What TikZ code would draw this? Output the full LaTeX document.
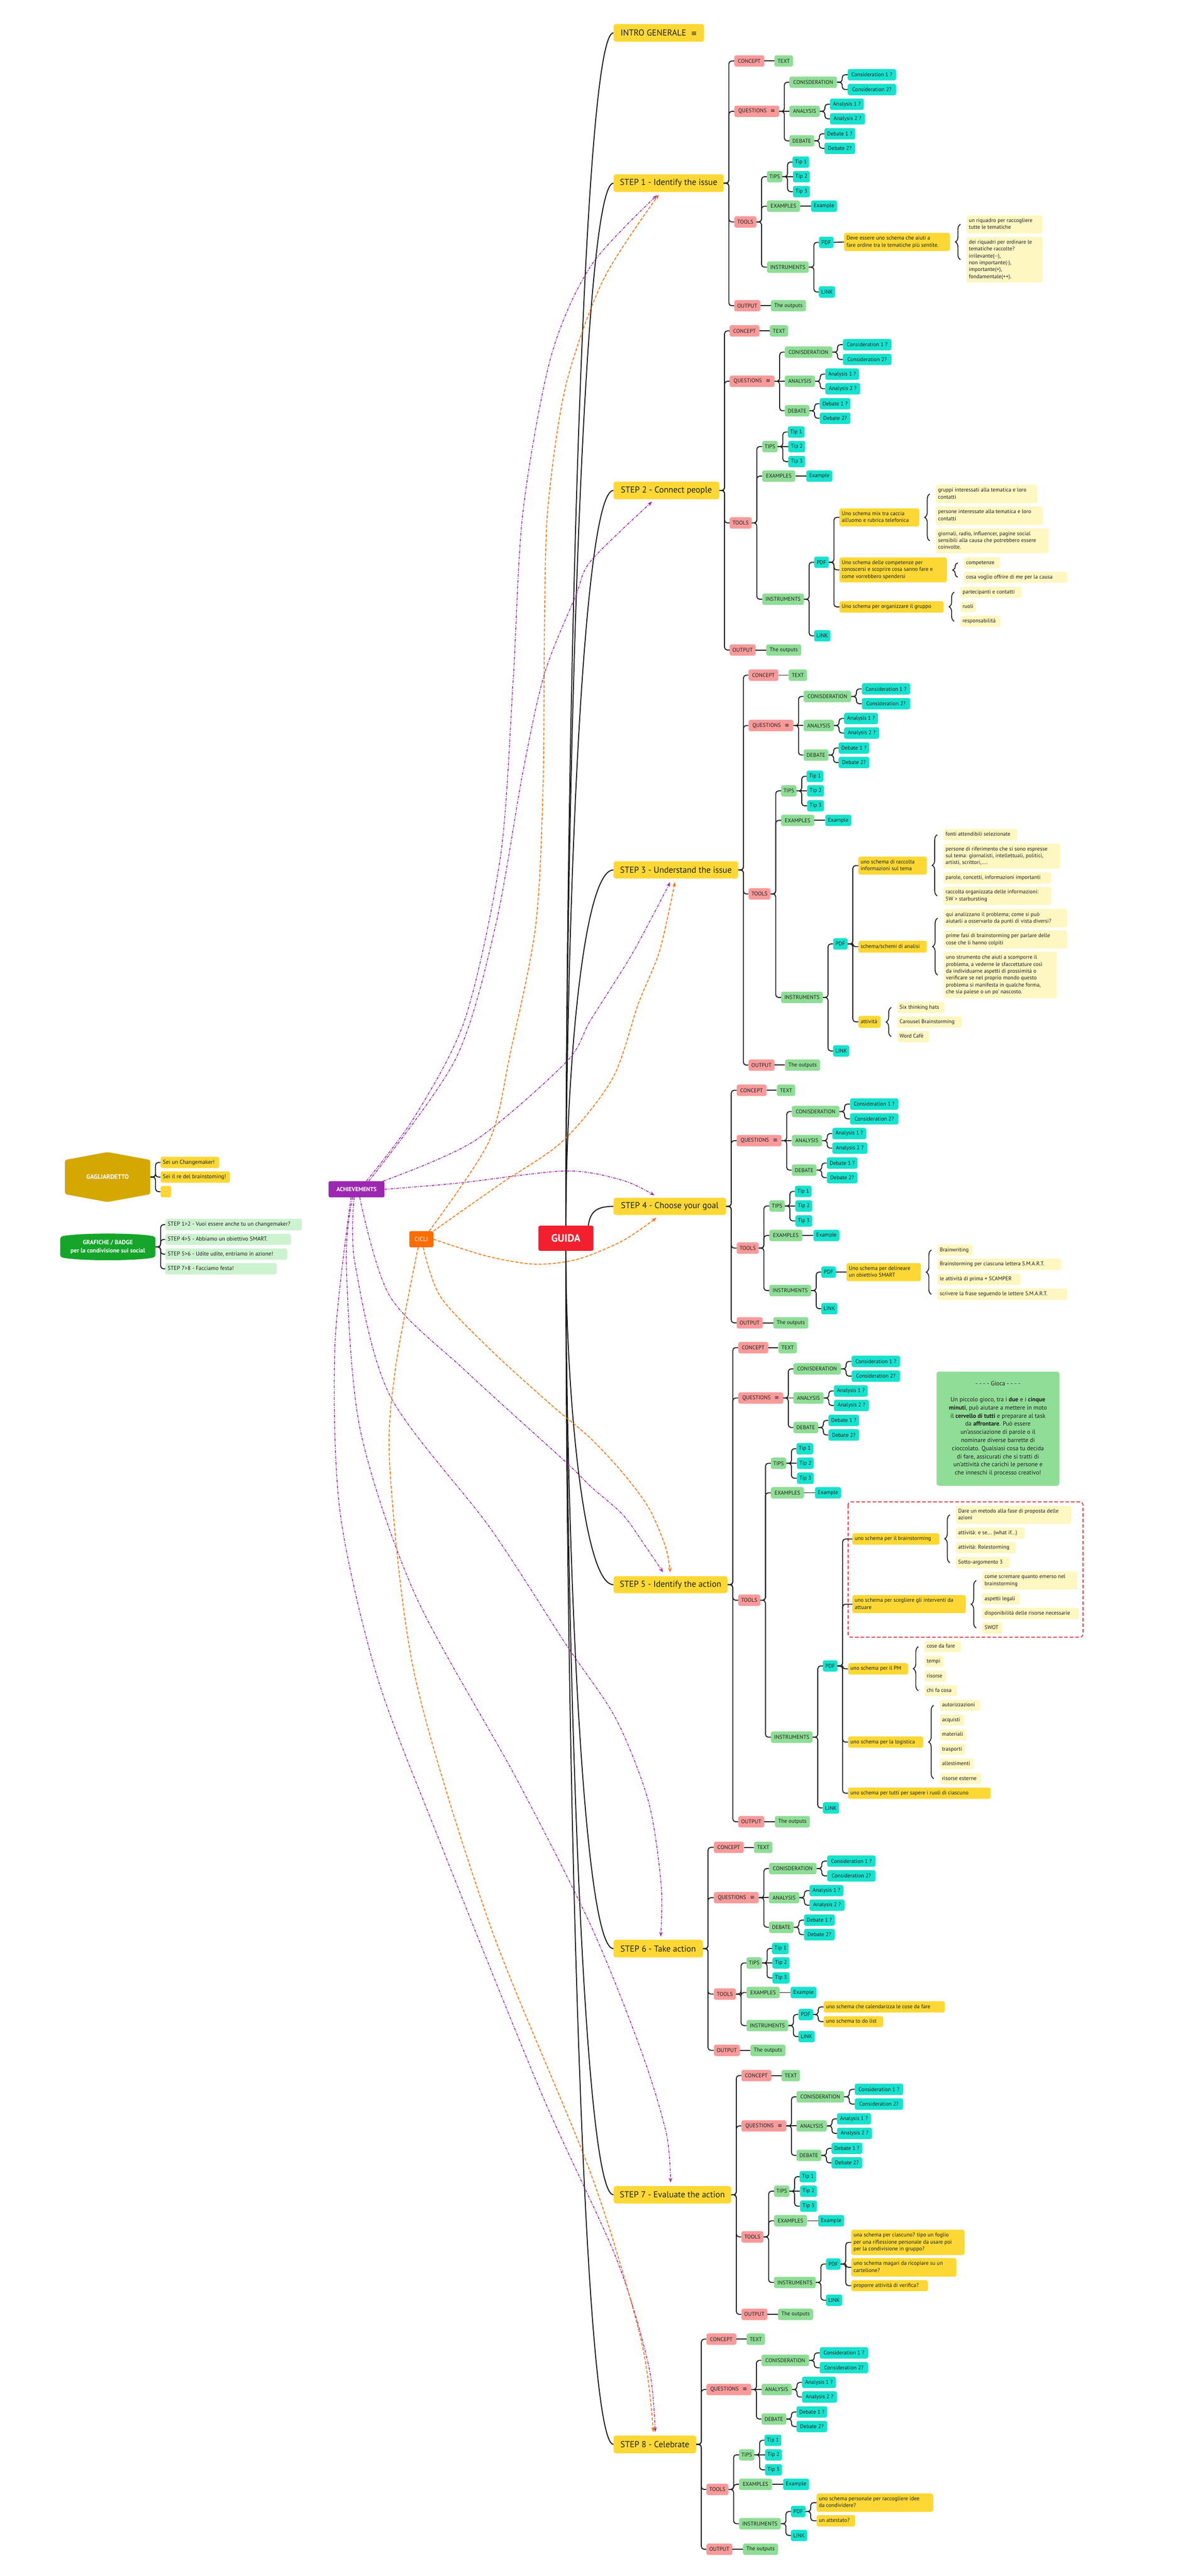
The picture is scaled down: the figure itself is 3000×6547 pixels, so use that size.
\documentclass[tikz,border=0pt]{standalone}
\usepackage{fontspec}
\setmainfont{PT Sans}
\newfontfamily\symf{DejaVu Sans}
\usetikzlibrary{calc,decorations.pathreplacing,arrows.meta}
\definecolor{stepY}{HTML}{FDD835}
\definecolor{pinkC}{HTML}{F99A9A}
\definecolor{greenC}{HTML}{8FDD96}
\definecolor{cyanC}{HTML}{17E2CD}
\definecolor{lyC}{HTML}{FFF7C2}
\definecolor{guidaC}{HTML}{F2202F}
\definecolor{purpC}{HTML}{9C27B0}
\definecolor{oranC}{HTML}{FF6D00}
\definecolor{gagC}{HTML}{D4A800}
\definecolor{grafC}{HTML}{15A52B}
\definecolor{badgeC}{HTML}{CDF2CF}
\definecolor{txtC}{HTML}{1E1E1E}
\definecolor{redbox}{HTML}{E8202A}
\tikzset{
 base/.style={rounded corners=5pt, inner xsep=6pt, inner ysep=2pt, align=left, text=txtC, font=\fontsize{14}{17.5}\selectfont},
 stp/.style={base, fill=stepY, rounded corners=6pt, font=\fontsize{22}{26}\selectfont},
 pk/.style={base, fill=pinkC},
 gr/.style={base, fill=greenC},
 cy/.style={base, fill=cyanC},
 yl/.style={base, fill=stepY},
 ly/.style={base, fill=lyC},
 bd/.style={base, fill=badgeC, font=\fontsize{14.5}{17.5}\selectfont},
 gy/.style={base, fill=stepY, font=\fontsize{14.5}{17.5}\selectfont},
 conn/.style={draw=txtC, line width=2.4pt, rounded corners=7pt},
 trunk/.style={draw=txtC, line width=2.6pt},
 brc/.style={draw=txtC, line width=2.2pt, decorate, decoration={brace, amplitude=13pt}},
 pu/.style={draw=purpC, line width=2pt, dash pattern=on 7pt off 3pt on 2pt off 3pt, -{Stealth[length=12pt,width=9pt]}},
 oa/.style={draw=oranC, line width=2pt, dash pattern=on 8pt off 4pt, -{Stealth[length=12pt,width=9pt]}},
 wt/.style={text=white, font=\bfseries\fontsize{16}{20.5}\selectfont, align=center},
 gioca/.style={fill=greenC, rounded corners=6pt, align=center, text=txtC, font=\fontsize{15.5}{20.7}\selectfont},
}
% box by corners, centred text
\newcommand\mmbx[7][]{\node[#1,minimum width={(#5)-(#3)},minimum height={(#6)-(#4)}] (#2) at ({((#3)+(#5))/2},{((#4)+(#6))/2}) {#7};}
% box by corners, left aligned text
\newcommand\mmbl[7][]{\node[#1,minimum width={(#5)-(#3)},minimum height={(#6)-(#4)}] (#2) at ({((#3)+(#5))/2},{((#4)+(#6))/2}) {\makebox[\dimexpr #5pt-#3pt-12pt\relax][l]{\begin{tabular}{@{}l@{}}#7\end{tabular}}};}
% small box: left x, center y, width
\newcommand\mmnb[6][]{\node[#1,minimum width={#5},minimum height=29] (#2) at ({#3+(#5)/2},{#4}) {#6};}
\newcommand\mmlk[2]{\draw[conn] (#1.east) -- ++(13,0) |- (#2.west);}
\newcommand\mmls[2]{\draw[conn] (#1.east) -- (#2.west);}
\newcommand\mmbr[2]{\draw[brc] ([xshift=-15pt]#1.west) -- ([xshift=-15pt]#2.west);}
\newcommand\qicon{{\symf\fontsize{14}{17}\selectfont ≡}}
% standard subtree: prefix, Lx, Cy, ToolsY, InstrY, PdfY, LinkY, OutY
\newcommand\mmsub[8]{%
 \mmnb[pk]{#1cp}{#2}{#3}{76}{CONCEPT}
 \mmnb[gr]{#1tx}{#2+102}{#3}{47}{TEXT}
 \mmnb[pk]{#1q}{#2}{#3+128}{114}{QUESTIONS\hspace{10pt}\qicon}
 \mmnb[gr]{#1cn}{#2+140}{#3+54}{121}{CONISDERATION}
 \mmnb[cy]{#1c1}{#2+288}{#3+35}{123}{Consideration 1 ?}
 \mmnb[cy]{#1c2}{#2+288}{#3+72.5}{123}{Consideration 2?}
 \mmnb[gr]{#1an}{#2+140}{#3+128}{77}{ANALYSIS}
 \mmnb[cy]{#1a1}{#2+243}{#3+110}{86}{Analysis 1 ?}
 \mmnb[cy]{#1a2}{#2+243}{#3+147}{89}{Analysis 2 ?}
 \mmnb[gr]{#1db}{#2+140}{#3+203}{63}{DEBATE}
 \mmnb[cy]{#1d1}{#2+229}{#3+185}{78}{Debate 1 ?}
 \mmnb[cy]{#1d2}{#2+229}{#3+222}{78}{Debate 2?}
 \mmnb[pk]{#1to}{#2}{#4}{56}{TOOLS}
 \mmnb[gr]{#1tp}{#2+83}{#3+294}{39}{TIPS}
 \mmnb[cy]{#1t1}{#2+149}{#3+257}{40}{Tip 1}
 \mmnb[cy]{#1t2}{#2+149}{#3+294}{43}{Tip 2}
 \mmnb[cy]{#1t3}{#2+149}{#3+332}{43}{Tip 3}
 \mmnb[gr]{#1ex}{#2+83}{#3+369}{84}{EXAMPLES}
 \mmnb[cy]{#1e1}{#2+195}{#3+369}{66}{Example}
 \mmnb[gr]{#1in}{#2+83}{#5}{106}{INSTRUMENTS}
 \mmnb[cy]{#1pd}{#2+215}{#6}{37}{PDF}
 \mmnb[cy]{#1lk}{#2+215}{#7}{41}{LINK}
 \mmnb[pk]{#1ou}{#2}{#8}{66}{OUTPUT}
 \mmnb[gr]{#1op}{#2+93}{#8}{89}{The outputs}
 \mmlk{#1}{#1cp}\mmlk{#1}{#1q}\mmlk{#1}{#1to}\mmlk{#1}{#1ou}
 \mmls{#1cp}{#1tx}
 \mmlk{#1q}{#1cn}\mmls{#1q}{#1an}\mmlk{#1q}{#1db}
 \mmlk{#1cn}{#1c1}\mmlk{#1cn}{#1c2}
 \mmlk{#1an}{#1a1}\mmlk{#1an}{#1a2}
 \mmlk{#1db}{#1d1}\mmlk{#1db}{#1d2}
 \mmlk{#1to}{#1tp}\mmlk{#1to}{#1ex}\mmlk{#1to}{#1in}
 \mmlk{#1tp}{#1t1}\mmls{#1tp}{#1t2}\mmlk{#1tp}{#1t3}
 \mmls{#1ex}{#1e1}
 \mmlk{#1in}{#1pd}\mmlk{#1in}{#1lk}
 \mmls{#1ou}{#1op}
}
\begin{document}
\begin{tikzpicture}[x=1pt,y=-1pt]
\useasboundingbox (0,0) rectangle (3000,6547);
\fill[white] (0,0) rectangle (3000,6547);

% ---------- left side ----------
\fill[gagC, rounded corners=5pt] (273,2928) -- (382,2948) -- (382,3035) -- (273,3055) -- (165,3035) -- (165,2948) -- cycle;
\node[wt, minimum width=217, minimum height=87] (gag) at (273.5,2991.5) {GAGLIARDETTO};
\mmbl[gy]{g1}{408}{2940}{557}{2969}{Sei un Changemaker!}
\mmbl[gy]{g2}{408}{2977}{584}{3006}{Sei il re del brainstoming!}
\mmbx[gy, font=\fontsize{9}{10}\selectfont, text=gray]{g3}{408}{3014}{435}{3043}{....}
\mmlk{gag}{g1}\mmlk{gag}{g2}\mmlk{gag}{g3}

\fill[grafC, rounded corners=6pt] (153,3143) .. controls (200,3133) and (348,3133) .. (395,3143) -- (395,3195) .. controls (348,3205) and (200,3205) .. (153,3195) -- cycle;
\node[wt, font=\bfseries\fontsize{15.5}{20.5}\selectfont, minimum width=242, minimum height=52] (graf) at (274,3169) {GRAFICHE / BADGE\\per la condivisione sui social};
\mmbl[bd]{b1}{420}{3098}{767}{3127}{STEP 1>2 - Vuoi essere anche tu un changemaker?}
\mmbl[bd]{b2}{420}{3136}{739}{3164}{STEP 4>5 - Abbiamo un obiettivo SMART.}
\mmbl[bd]{b3}{420}{3173}{730}{3202}{STEP 5>6 - Udite udite, entriamo in azione!}
\mmbl[bd]{b4}{420}{3210}{703}{3239}{STEP 7>8 - Facciamo festa!}
\mmlk{graf}{b1}\mmlk{graf}{b2}\mmlk{graf}{b3}\mmlk{graf}{b4}

\mmbx[base, fill=purpC, text=white, font=\bfseries\fontsize{15}{18}\selectfont, rounded corners=4pt]{ach}{835}{3002}{977}{3043}{ACHIEVEMENTS}
\mmbx[base, fill=oranC, text=white, font=\fontsize{15.5}{18}\selectfont, rounded corners=4pt]{cic}{1040}{3129}{1101}{3170}{CICLI}
\mmbx[base, fill=guidaC, text=white, font=\bfseries\fontsize{27}{30}\selectfont, rounded corners=5pt]{guida}{1368}{3115}{1508}{3179}{GUIDA}

% ---------- main nodes ----------
\mmbx[stp]{intro}{1559}{61}{1789}{106}{INTRO GENERALE\hspace{12pt}{\symf\fontsize{18}{20}\selectfont ≡}}
\mmbx[stp]{s1}{1559}{443}{1839}{488}{STEP 1 - Identify the issue}
\mmbx[stp]{s2}{1559}{1224}{1828}{1269}{STEP 2 - Connect people}
\mmbx[stp]{s3}{1559}{2189}{1876}{2233}{STEP 3 - Understand the issue}
\mmbx[stp]{s4}{1559}{3044}{1845}{3088}{STEP 4 - Choose your goal}
\mmbx[stp]{s5}{1559}{4006}{1849}{4049}{STEP 5 - Identify the action}
\mmbx[stp]{s6}{1559}{4930}{1786}{4975}{STEP 6 - Take action}
\mmbx[stp]{s7}{1559}{5556}{1858}{5600}{STEP 7 - Evaluate the action}
\mmbx[stp]{s8}{1559}{6190}{1769}{6235}{STEP 8 - Celebrate}

% trunk connectors
\draw[trunk] (guida.north) .. controls (1438,1902) and (1480,83) .. (intro.west);
\draw[trunk] (guida.north) .. controls (1438,2055) and (1480,466) .. (s1.west);
\draw[trunk] (guida.north) .. controls (1438,2367) and (1480,1246) .. (s2.west);
\draw[trunk] (guida.north) .. controls (1438,2753) and (1480,2211) .. (s3.west);
\draw[trunk] ([xshift=57pt]guida.north) .. controls (1500,3080) and (1515,3066) .. (s4.west);
\draw[trunk] (guida.south) .. controls (1438,3518) and (1480,4027) .. (s5.west);
\draw[trunk] (guida.south) .. controls (1438,3889) and (1480,4953) .. (s6.west);
\draw[trunk] (guida.south) .. controls (1438,4139) and (1480,5578) .. (s7.west);
\draw[trunk] (guida.south) .. controls (1438,4392) and (1480,6212) .. (s8.west);

% ---------- subtrees ----------
\mmsub{s1}{1866}{155}{564}{679}{616}{742}{777}
\mmsub{s2}{1854}{841}{1329}{1523}{1429}{1616}{1652}
\mmsub{s3}{1902}{1716}{2272}{2535}{2399}{2671}{2707}
\mmsub{s4}{1872}{2771}{3172}{3280}{3233}{3326}{3362}
\mmsub{s5}{1876}{3425}{4067}{4415}{4234}{4595}{4630}
\mmsub{s6}{1814}{4695}{5068}{5148}{5120}{5176}{5211}
\mmsub{s7}{1884}{5275}{5685}{5801}{5754}{5846}{5882}
\mmsub{s8}{1795}{5945}{6327}{6414}{6383}{6444}{6479}

% step 1 details
\mmbl[yl]{s1y1}{2145}{592}{2414}{638}{Deve essere uno schema che aiuti a\\fare ordine tra le tematiche più sentite.}
\mmbl[ly]{s1l1}{2456}{547}{2649}{593}{un riquadro per raccogliere\\tutte le tematiche}
\mmbl[ly]{s1l2}{2456}{602}{2649}{718}{dei riquadri per ordinare le\\tematiche raccolte?\\irrilevante(-{}-),\\non importante(-),\\importante(+),\\fondamentale(++).}
\mmls{s1pd}{s1y1}
\mmbr{s1l2}{s1l1}

% step 2 details
\mmbl[yl]{s2y1}{2133}{1292}{2336}{1338}{Uno schema mix tra caccia\\all'uomo e rubrica telefonica}
\mmbl[ly]{s2a1}{2378}{1232}{2636}{1279}{gruppi interessati alla tematica e loro\\contatti}
\mmbl[ly]{s2a2}{2378}{1287}{2650}{1334}{persone interessate alla tematica e loro\\contatti}
\mmbl[ly]{s2a3}{2378}{1343}{2664}{1406}{giornali, radio, influencer, pagine social\\sensibili alla causa che potrebbero essere\\coinvolte.}
\mmbl[yl]{s2y2}{2133}{1417}{2406}{1480}{Uno schema delle competenze per\\conoscersi e scoprire cosa sanno fare e\\come vorrebbero spendersi}
\mmbl[ly]{s2b1}{2449}{1416}{2541}{1445}{competenze}
\mmbl[ly]{s2b2}{2449}{1453}{2712}{1481}{cosa voglio offrire di me per la causa}
\mmbl[yl]{s2y3}{2133}{1528}{2398}{1557}{Uno schema per organizzare il gruppo}
\mmbl[ly]{s2c1}{2440}{1491}{2596}{1519}{partecipanti e contatti}
\mmbl[ly]{s2c2}{2440}{1529}{2480}{1556}{ruoli}
\mmbl[ly]{s2c3}{2440}{1565}{2542}{1593}{responsabilità}
\mmlk{s2pd}{s2y1}\mmlk{s2pd}{s2y2}\mmlk{s2pd}{s2y3}
\mmbr{s2a3}{s2a1}\mmbr{s2b2}{s2b1}\mmbr{s2c3}{s2c1}

% step 3 details
\mmbl[yl]{s3y1}{2181}{2177}{2355}{2223}{uno schema di raccolta\\informazioni sul tema}
\mmbl[ly]{s3a1}{2397}{2107}{2585}{2136}{fonti attendibili selezionate}
\mmbl[ly]{s3a2}{2397}{2144}{2694}{2208}{persone di riferimento che si sono espresse\\sul tema: giornalisti, intellettuali, politici,\\artisti, scrittori,....}
\mmbl[ly]{s3a3}{2397}{2217}{2671}{2246}{parole, concetti, informazioni importanti}
\mmbl[ly]{s3a4}{2397}{2254}{2671}{2300}{raccolta organizzata delle informazioni:\\5W > starbursting}
\mmbl[yl]{s3y2}{2181}{2391}{2355}{2421}{schema/schemi di analisi}
\mmbl[ly]{s3b1}{2398}{2310}{2712}{2357}{qui analizzano il problema; come si può\\aiutarli a osservarlo da punti di vista diversi?}
\mmbl[ly]{s3b2}{2398}{2365}{2712}{2411}{prime fasi di brainstorming per parlare delle\\cose che li hanno colpiti}
\mmbl[ly]{s3b3}{2398}{2419}{2686}{2537}{uno strumento che aiuti a scomporre il\\problema, a vederne le sfaccettature così\\da individuarne aspetti di prossimità o\\verificare se nel proprio mondo questo\\problema si manifesta in qualche forma,\\che sia palese o un po' nascosto.}
\mmbl[yl]{s3y3}{2181}{2582}{2238}{2612}{attività}
\mmbl[ly]{s3c1}{2280}{2546}{2400}{2575}{Six thinking hats}
\mmbl[ly]{s3c2}{2280}{2583}{2444}{2612}{Carousel Brainstorming}
\mmbl[ly]{s3c3}{2280}{2620}{2361}{2649}{Word Cafè}
\mmlk{s3pd}{s3y1}\mmlk{s3pd}{s3y2}\mmlk{s3pd}{s3y3}
\mmbr{s3a4}{s3a1}\mmbr{s3b3}{s3b1}\mmbr{s3c3}{s3c1}

% step 4 details
\mmbl[yl]{s4y1}{2151}{3210}{2340}{3256}{Uno schema per delineare\\un obiettivo SMART}
\mmbl[ly]{s4a1}{2382}{3163}{2472}{3191}{Brainwriting}
\mmbl[ly]{s4a2}{2382}{3199}{2697}{3228}{Brainstorming per ciascuna lettera S.M.A.R.T.}
\mmbl[ly]{s4a3}{2382}{3237}{2594}{3266}{le attività di prima + SCAMPER}
\mmbl[ly]{s4a4}{2382}{3275}{2712}{3304}{scrivere la frase seguendo le lettere S.M.A.R.T.}
\mmls{s4pd}{s4y1}
\mmbr{s4a4}{s4a1}

% step 5 details
\node[gioca, minimum width=312, minimum height=290] (gioc) at (2536,3631) {- - - - Gioca - - - -\\[20pt]Un piccolo gioco, tra i \textbf{due} e i \textbf{cinque}\\\textbf{minuti}, può aiutare a mettere in moto\\il \textbf{cervello di tutti} e preparare al task\\da \textbf{affrontare}. Può essere\\un'associazione di parole o il\\nominare diverse barrette di\\cioccolato. Qualsiasi cosa tu decida\\di fare, assicurati che si tratti di\\un'attività che carichi le persone e\\che inneschi il processo creativo!};
\draw[redbox, line width=2pt, dash pattern=on 9pt off 5pt, rounded corners=8pt] (2155,3817) rectangle (2752,4161);
\mmbl[yl]{s5y1}{2166}{3897}{2387}{3926}{uno schema per il brainstorming}
\mmbl[ly]{s5a1}{2429}{3827}{2722}{3873}{Dare un metodo alla fase di proposta delle\\azioni}
\mmbl[ly]{s5a2}{2429}{3882}{2604}{3911}{attività: e se... (what if...)}
\mmbl[ly]{s5a3}{2429}{3919}{2581}{3948}{attività: Rolestorming}
\mmbl[ly]{s5a4}{2429}{3957}{2566}{3986}{Sotto-argomento 3}
\mmbl[yl]{s5y2}{2166}{4054}{2454}{4100}{uno schema per scegliere gli interventi da\\attuare}
\mmbl[ly]{s5b1}{2496}{3994}{2737}{4040}{come scremare quanto emerso nel\\brainstorming}
\mmbl[ly]{s5b2}{2496}{4049}{2591}{4078}{aspetti legali}
\mmbl[ly]{s5b3}{2496}{4086}{2741}{4115}{disponibilità delle risorse necessarie}
\mmbl[ly]{s5b4}{2496}{4123}{2547}{4152}{SWOT}
\mmbl[yl]{s5y3}{2155}{4227}{2308}{4256}{uno schema per il PM}
\mmbl[ly]{s5c1}{2349}{4171}{2442}{4199}{cose da fare}
\mmbl[ly]{s5c2}{2349}{4208}{2398}{4237}{tempi}
\mmbl[ly]{s5c3}{2349}{4246}{2404}{4274}{risorse}
\mmbl[ly]{s5c4}{2349}{4283}{2432}{4311}{chi fa cosa}
\mmbl[yl]{s5y4}{2155}{4413}{2346}{4442}{uno schema per la logistica}
\mmbl[ly]{s5d1}{2388}{4320}{2491}{4348}{autorizzazioni}
\mmbl[ly]{s5d2}{2388}{4357}{2450}{4386}{acquisti}
\mmbl[ly]{s5d3}{2388}{4395}{2456}{4423}{materiali}
\mmbl[ly]{s5d4}{2388}{4432}{2453}{4460}{trasporti}
\mmbl[ly]{s5d5}{2388}{4469}{2474}{4497}{allestimenti}
\mmbl[ly]{s5d6}{2388}{4506}{2493}{4535}{risorse esterne}
\mmbl[yl]{s5y5}{2155}{4543}{2517}{4572}{uno schema per tutti per sapere i ruoli di ciascuno}
\mmlk{s5pd}{s5y1}\mmlk{s5pd}{s5y2}\mmlk{s5pd}{s5y3}\mmlk{s5pd}{s5y4}\mmlk{s5pd}{s5y5}
\mmbr{s5a4}{s5a1}\mmbr{s5b4}{s5b1}\mmbr{s5c4}{s5c1}\mmbr{s5d6}{s5d1}

% step 6 details
\mmbl[yl]{s6y1}{2093}{5086}{2401}{5115}{uno schema che calendarizza le cose da fare}
\mmbl[yl]{s6y2}{2093}{5124}{2244}{5152}{uno schema to do list}
\mmlk{s6pd}{s6y1}\mmlk{s6pd}{s6y2}

% step 7 details
\mmbl[yl]{s7y1}{2163}{5667}{2451}{5731}{una schema per ciascuno? tipo un foglio\\per una riflessione personale da usare poi\\per la condivisione in gruppo?}
\mmbl[yl]{s7y2}{2163}{5739}{2430}{5786}{uno schema magari da ricopiare su un\\cartellone?}
\mmbl[yl]{s7y3}{2163}{5795}{2358}{5823}{proporre attività di verifica?}
\mmlk{s7pd}{s7y1}\mmlk{s7pd}{s7y2}\mmlk{s7pd}{s7y3}

% step 8 details
\mmbl[yl]{s8y1}{2075}{6337}{2371}{6384}{uno schema personale per raccogliere idee\\da condividere?}
\mmbl[yl]{s8y2}{2075}{6392}{2173}{6421}{un attestato?}
\mmlk{s8pd}{s8y1}\mmlk{s8pd}{s8y2}

% ---------- relationship arrows ----------
\coordinate (pe1) at (1670,496);
\coordinate (pe2) at (1657,1275);
\coordinate (pe3) at (1703,2242);
\coordinate (pe4) at (1663,3038);
\coordinate (pe5) at (1685,3996);
\coordinate (pe6) at (1679,4922);
\coordinate (pe7) at (1704,5547);
\coordinate (pe8) at (1665,6181);
\coordinate (oe1) at (1674,495);
\coordinate (oe3) at (1715,2242);
\coordinate (oe4) at (1668,3095);
\coordinate (oe5) at (1703,3996);
\coordinate (oe8) at (1660,6181);

\draw[pu] plot[smooth] coordinates {([xshift=25pt]ach.north) (1055,2836) (1183,2586) (1272,2175) (1304,1729) (1329,1300) (1400,907) (1502,675) (pe1)};
\draw[pu] plot[smooth] coordinates {([xshift=31pt]ach.north) (1157,2693) (1259,2354) (1329,1961) (1384,1711) (1463,1514) (1502,1425) (pe2)};
\draw[pu] plot[smooth] coordinates {([xshift=-4pt]ach.north east) (1205,2900) (1438,2700) (1500,2594) (1599,2437) (1661,2323) (pe3)};
\draw[pu] plot[smooth] coordinates {(ach.east) (1163,3007) (1438,2976) (1583,3000) (pe4)};
\draw[pu] plot[smooth] coordinates {([xshift=8pt]ach.south) (991,3295) (1183,3484) (1438,3716) (1500,3777) (1583,3850) (1641,3931) (pe5)};
\draw[pu] plot[smooth] coordinates {([xshift=-6pt]ach.south) (902,3211) (991,3547) (1246,3884) (1438,4179) (1565,4368) (1648,4579) (1680,4789) (pe6)};
\draw[pu] plot[smooth] coordinates {([xshift=-10pt]ach.south) (880,3211) (915,3632) (1055,4053) (1310,4516) (1502,4895) (1629,5211) (1693,5421) (pe7)};
\draw[pu] plot[smooth] coordinates {([xshift=-14pt]ach.south) (851,3421) (864,3842) (959,4263) (1119,4684) (1374,5316) (1565,5737) (1648,6011) (pe8)};

\draw[oa] plot[smooth] coordinates {([xshift=20pt]cic.north) (1243,2900) (1297,2675) (1361,2354) (1380,1996) (1384,1550) (1393,1282) (1438,979) (1533,711) (oe1)};
\draw[oa] plot[smooth] coordinates {(cic.north east) (1270,3010) (1430,2900) (1557,2740) (1622,2551) (1676,2417) (oe3)};
\draw[oa] plot[smooth] coordinates {(cic.east) (1239,3193) (1361,3213) (1469,3200) (1583,3153) (oe4)};
\draw[oa] plot[smooth] coordinates {([xshift=5pt]cic.south) (1119,3295) (1246,3430) (1400,3570) (1500,3655) (1583,3744) (1649,3833) (1691,3931) (oe5)};
\draw[oa] plot[smooth] coordinates {([xshift=-8pt]cic.south) (1004,3484) (991,3737) (1055,4263) (1246,4895) (1502,5526) (1629,5947) (oe8)};
\end{tikzpicture}
\end{document}
